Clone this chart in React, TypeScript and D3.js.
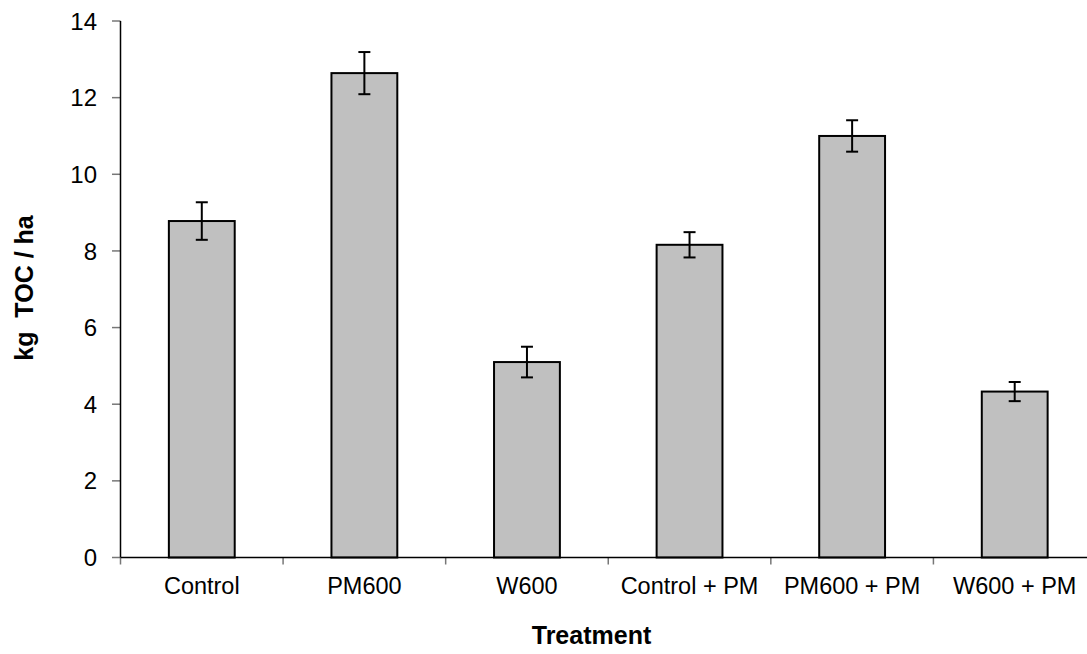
import React from "react";
import * as d3 from "d3";

const categories = ["Control", "PM600", "W600", "Control + PM", "PM600 + PM", "W600 + PM"];
const values = [8.78, 12.64, 5.1, 8.16, 11.0, 4.33];
const errors = [0.49, 0.55, 0.4, 0.33, 0.41, 0.25];
const yTicks = [0, 2, 4, 6, 8, 10, 12, 14];

const W = 1087;
const H = 654;
const left = 120.5;
const right = 1096;
const top = 21;
const bottom = 557.5;

export default function App() {
  const x = d3.scaleBand<string>().domain(categories).range([left, right]).padding(0);
  const y = d3.scaleLinear().domain([0, 14]).range([bottom, top]);
  const bw = x.bandwidth() * 0.405;
  const capW = 12;
  const font = "Arial, 'Liberation Sans', sans-serif";
  const boundaries = d3.range(categories.length + 1).map((i) => left + i * x.step());

  return (
    <svg width={W} height={H} style={{ position: "absolute", left: 0, top: 0, background: "#fff" }} fontFamily={font}>
      <rect x={0} y={0} width={W} height={H} fill="#fff" />
      {categories.map((c, i) => {
        const cx = (x(c) as number) + x.bandwidth() / 2;
        return (
          <g key={c}>
            <rect x={cx - bw / 2} y={y(values[i])} width={bw} height={y(0) - y(values[i])} fill="#c0c0c0" stroke="#000" strokeWidth={2} />
            <line x1={cx} x2={cx} y1={y(values[i] + errors[i])} y2={y(values[i] - errors[i])} stroke="#000" strokeWidth={2} />
            <line x1={cx - capW / 2} x2={cx + capW / 2} y1={y(values[i] + errors[i])} y2={y(values[i] + errors[i])} stroke="#000" strokeWidth={2} />
            <line x1={cx - capW / 2} x2={cx + capW / 2} y1={y(values[i] - errors[i])} y2={y(values[i] - errors[i])} stroke="#000" strokeWidth={2} />
          </g>
        );
      })}
      {yTicks.map((t) => (
        <g key={t}>
          <line x1={112} x2={left} y1={y(t)} y2={y(t)} stroke="#777" strokeWidth={1.5} />
          <text x={97} y={y(t)} dy="0.36em" textAnchor="end" fontSize={24} fill="#000">
            {t}
          </text>
        </g>
      ))}
      <line x1={left} x2={left} y1={top} y2={bottom} stroke="#000" strokeWidth={1.5} />
      {boundaries.map((b, i) => (
        <line key={i} x1={b} x2={b} y1={bottom} y2={bottom + 7} stroke="#777" strokeWidth={1.5} />
      ))}
      <line x1={left} x2={right} y1={bottom} y2={bottom} stroke="#000" strokeWidth={1.5} />
      {categories.map((c) => (
        <text key={c} x={(x(c) as number) + x.bandwidth() / 2} y={594} textAnchor="middle" fontSize={23.5} fill="#000">
          {c}
        </text>
      ))}
      <text x={591.5} y={644} textAnchor="middle" fontSize={25} fontWeight="bold" fill="#000">
        Treatment
      </text>
      <text
        transform={`translate(33,288) rotate(-90)`}
        textAnchor="middle"
        fontSize={25}
        fontWeight="bold"
        fill="#000"
        style={{ whiteSpace: "pre" }}
      >
        {"kg  TOC / ha"}
      </text>
    </svg>
  );
}
